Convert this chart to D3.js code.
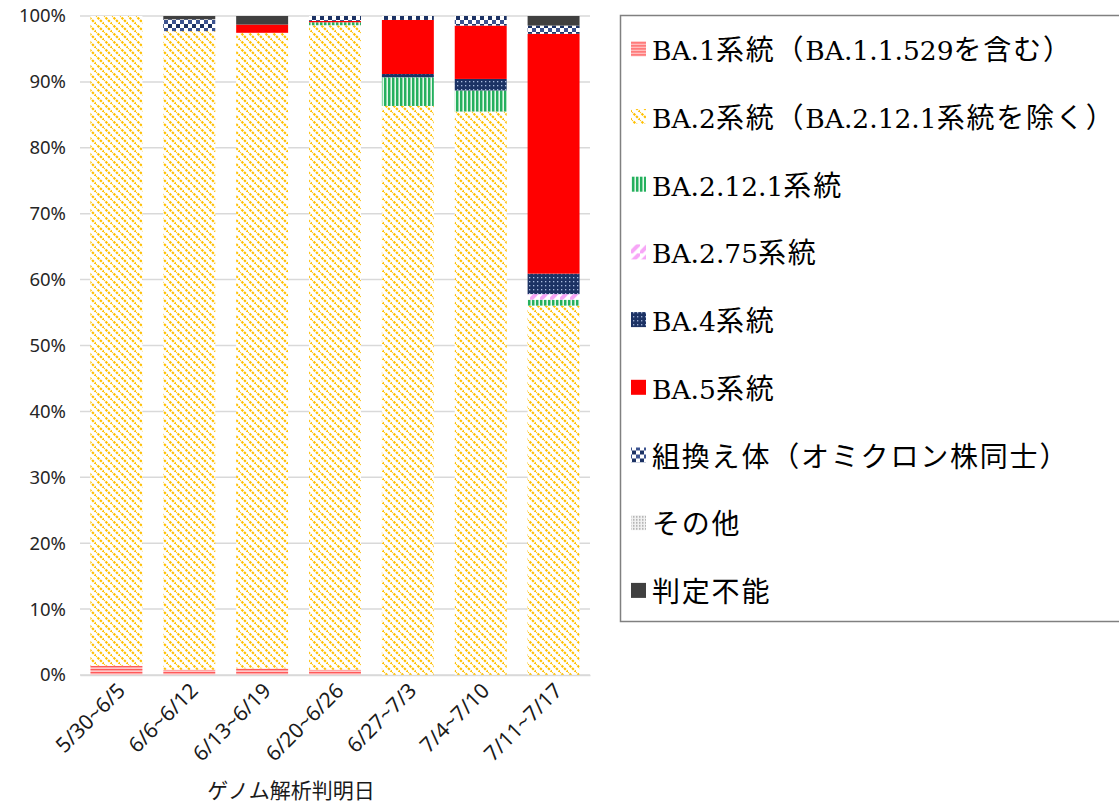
<!DOCTYPE html>
<html>
<head>
<meta charset="utf-8">
<script src="https://cdn.jsdelivr.net/npm/d3@7"></script>
<style>
  body { margin: 0; background: #fff; }
  svg { display: block; }
</style>
</head>
<body>
<div id="chart"></div>
<script>
// weeks (ゲノム解析判明日)
const categories = ["5/30~6/5", "6/6~6/12", "6/13~6/19", "6/20~6/26", "6/27~7/3", "7/4~7/10", "7/11~7/17"]

// share of each lineage, percent
const ba1 = [1.4, 0.8, 1.0, 0.8, 0, 0, 0]
const ba2 = [98.6, 96.9, 96.45, 97.8, 86.35, 85.5, 56.05]
const ba2121 = [0, 0, 0, 0.45, 4.35, 3.2, 0.9]
const ba275 = [0, 0, 0, 0, 0, 0, 0.85]
const ba4 = [0, 0, 0, 0, 0.5, 1.75, 3.1]
const ba5 = [0, 0, 1.25, 0.2, 8.2, 8.1, 36.4]
const recomb = [0, 1.8, 0, 0.75, 0.6, 1.45, 1.25]
const other = [0, 0, 0, 0, 0, 0, 0]
const undetermined = [0, 0.5, 1.3, 0, 0, 0, 1.45]

const seriesNames = [
    "BA.1系統（BA.1.1.529を含む）",
    "BA.2系統（BA.2.12.1系統を除く）",
    "BA.2.12.1系統",
    "BA.2.75系統",
    "BA.4系統",
    "BA.5系統",
    "組換え体（オミクロン株同士）",
    "その他",
    "判定不能"
]
const yTicks = [0, 10, 20, 30, 40, 50, 60, 70, 80, 90, 100]

const keys = ["ba1", "ba2", "ba2121", "ba275", "ba4", "ba5", "recomb", "other", "undetermined"]
const table = categories.map((c, i) => ({
    cat: c, ba1: ba1[i], ba2: ba2[i], ba2121: ba2121[i], ba275: ba275[i], ba4: ba4[i],
    ba5: ba5[i], recomb: recomb[i], other: other[i], undetermined: undetermined[i]
}))

const width = 1119
const height = 806

const svg = d3.select("#chart")
    .append("svg")
    .attr("width", width)
    .attr("height", height)

// fill patterns, roughly like the excel ones
const defs = svg.append("defs")

var p = defs.append("pattern").attr("id", "p-ba1").attr("patternUnits", "userSpaceOnUse")
    .attr("width", 6).attr("height", 3)
p.append("rect").attr("width", 6).attr("height", 3).attr("fill", "#ffc7c7")
p.append("rect").attr("width", 6).attr("height", 1.3).attr("fill", "#ff5a5a")

p = defs.append("pattern").attr("id", "p-ba2").attr("patternUnits", "userSpaceOnUse")
    .attr("width", 8).attr("height", 8)
p.append("rect").attr("width", 8).attr("height", 8).attr("fill", "#ffffff")
p.append("path").attr("d", "M-4,4 L0,8 M4,-4 L12,4").attr("stroke", "#fff0cc").attr("stroke-width", 1.5)
p.append("path").attr("d", "M-1,-1 L9,9").attr("stroke", "#ffc000").attr("stroke-width", 2.2)
    .attr("stroke-dasharray", "2.4,1.2")

p = defs.append("pattern").attr("id", "p-ba2121").attr("patternUnits", "userSpaceOnUse")
    .attr("width", 4).attr("height", 4)
p.append("rect").attr("width", 4).attr("height", 4).attr("fill", "#e6f7ec")
p.append("rect").attr("width", 2).attr("height", 4).attr("fill", "#25b05e")
p.append("rect").attr("x", 2).attr("width", 1).attr("height", 4).attr("fill", "#8fd8aa")

p = defs.append("pattern").attr("id", "p-ba275").attr("patternUnits", "userSpaceOnUse")
    .attr("width", 10).attr("height", 10)
p.append("rect").attr("width", 10).attr("height", 10).attr("fill", "#ffffff")
p.append("path").attr("d", "M-2,12 L12,-2").attr("stroke", "#f7a6f7").attr("stroke-width", 4)

p = defs.append("pattern").attr("id", "p-ba4").attr("patternUnits", "userSpaceOnUse")
    .attr("width", 4).attr("height", 4)
p.append("rect").attr("width", 4).attr("height", 4).attr("fill", "#1c3264")
p.append("rect").attr("x", 1).attr("y", 1).attr("width", 1.3).attr("height", 1.3).attr("fill", "#a9bbe0")

p = defs.append("pattern").attr("id", "p-recomb").attr("patternUnits", "userSpaceOnUse")
    .attr("width", 8).attr("height", 8)
p.append("rect").attr("width", 8).attr("height", 8).attr("fill", "#ffffff")
p.append("rect").attr("width", 4).attr("height", 4).attr("fill", "#1c3264")
p.append("rect").attr("x", 4).attr("y", 4).attr("width", 4).attr("height", 4).attr("fill", "#3c5390")

p = defs.append("pattern").attr("id", "p-other").attr("patternUnits", "userSpaceOnUse")
    .attr("width", 3).attr("height", 3)
p.append("rect").attr("width", 3).attr("height", 3).attr("fill", "#f2f2f2")
p.append("rect").attr("width", 1.5).attr("height", 1.5).attr("fill", "#a6a6a6")

const fills = {
    ba1: "url(#p-ba1)", ba2: "url(#p-ba2)", ba2121: "url(#p-ba2121)", ba275: "url(#p-ba275)",
    ba4: "url(#p-ba4)", ba5: "#ff0000", recomb: "url(#p-recomb)", other: "url(#p-other)",
    undetermined: "#404040"
}

const x = d3.scaleBand()
    .domain(categories)
    .range([80, 590])
    .paddingInner(0.287)
    .paddingOuter(0.1435)

const y = d3.scaleLinear()
    .domain([0, 100])
    .range([675, 16])

// gridlines
const g = svg.append("g")
g.selectAll("line.grid")
    .data(yTicks)
    .join("line")
    .attr("class", "grid")
    .attr("x1", 80)
    .attr("x2", 590)
    .attr("y1", d => y(d))
    .attr("y2", d => y(d))
    .attr("stroke", "#d9d9d9")
    .attr("stroke-width", 1.5)

// y axis labels
const yAxis = svg.append("g")
    .attr("transform", "translate(66,0)")
    .call(d3.axisLeft(y).tickValues(yTicks).tickFormat(d => d + "%").tickSize(0).tickPadding(0))
yAxis.select(".domain").remove()
yAxis.selectAll("text")
    .attr("font-family", "'Noto Sans', sans-serif")
    .attr("font-size", "18.5px")
    .attr("fill", "#262626")

// stacked bars
const stacked = d3.stack().keys(keys)(table)
svg.append("g")
    .selectAll("g")
    .data(stacked)
    .join("g")
    .attr("fill", d => fills[d.key])
    .selectAll("rect")
    .data(d => d)
    .join("rect")
    .attr("x", d => x(d.data.cat))
    .attr("width", x.bandwidth())
    .attr("y", d => y(d[1]))
    .attr("height", d => y(d[0]) - y(d[1]))

// x axis
const xAxis = svg.append("g")
    .attr("transform", "translate(0,675)")
    .call(d3.axisBottom(x).tickSize(0).tickPadding(0))
xAxis.select(".domain").attr("stroke", "#d9d9d9").attr("stroke-width", 1.5)
xAxis.selectAll("text")
    .attr("font-family", "'Noto Sans', sans-serif")
    .attr("font-size", "21px")
    .attr("fill", "#1a1a1a")
    .attr("text-anchor", "end")
    .attr("dy", 0)
    .attr("y", 0)
    .attr("transform", "translate(10,17) rotate(-45)")

svg.append("text")
    .text("ゲノム解析判明日")
    .attr("x", 291)
    .attr("y", 798)
    .attr("text-anchor", "middle")
    .attr("font-family", "'Noto Sans CJK JP', sans-serif")
    .attr("font-size", "21px")
    .attr("fill", "#1a1a1a")

// legend
const legend = svg.append("g")
legend.append("rect")
    .attr("x", 620.5)
    .attr("y", 15.5)
    .attr("width", 520)
    .attr("height", 606)
    .attr("fill", "none")
    .attr("stroke", "#808080")
    .attr("stroke-width", 1.5)

const item = legend.selectAll("g.item")
    .data(keys)
    .join("g")
    .attr("class", "item")
    .attr("transform", (d, i) => "translate(0," + (60.3 + i * 67.7) + ")")
item.append("rect")
    .attr("x", 631)
    .attr("y", -19)
    .attr("width", 15)
    .attr("height", 15)
    .attr("fill", d => fills[d])

// latin runs in a serif, japanese runs in gothic
const label = item.append("text")
    .attr("x", 652)
    .attr("y", 0)
    .attr("fill", "#000")
label.selectAll("tspan")
    .data((d, i) => seriesNames[i].match(/[A-Za-z0-9.]+|[^A-Za-z0-9.]+/g))
    .join("tspan")
    .text(s => s)
    .each(function (s) {
        const latin = /^[A-Za-z0-9.]/.test(s)
        d3.select(this)
            .attr("font-family", latin ? "'DejaVu Serif', serif" : "'Noto Sans CJK JP', sans-serif")
            .attr("font-size", latin ? "26.5px" : "28px")
            .attr("letter-spacing", latin ? "0px" : "1.8px")
    })
</script>
</body>
</html>
